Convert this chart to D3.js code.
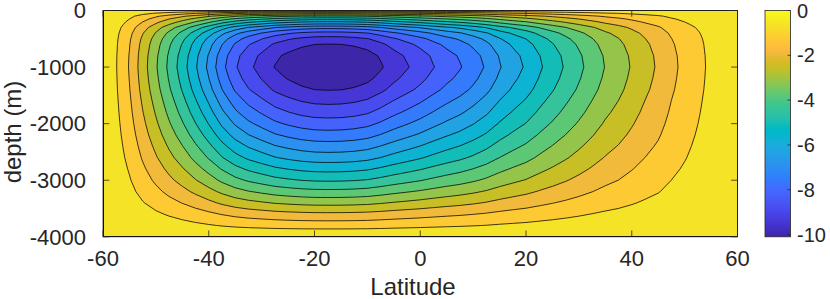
<!DOCTYPE html>
<html><head><meta charset="utf-8">
<script src="https://cdn.jsdelivr.net/npm/d3@7"></script>
<style>
body{margin:0;background:#fff;}
text{font-family:"Liberation Sans",Arial,Helvetica,sans-serif;fill:#262626;}
</style></head><body>
<svg id="chart" width="830" height="299"></svg>
<script>
// ---- data ----
const latGrid = [-60,-57.5,-55,-52.5,-50,-47.5,-45,-42.5,-40,-37.5,-35,-32.5,-30,-27.5,-25,-22.5,-20,-17.5,-15,-12.5,-10,-7.5,-5,-2.5,0,2.5,5,7.5,10,12.5,15,17.5,20,22.5,25,27.5,30,32.5,35,37.5,40,42.5,45,47.5,50,52.5,55,57.5,60];
const latProfile = [0,0.06,0.13,0.22,0.305,0.39,0.47,0.555,0.64,0.73,0.805,0.86,0.90,0.94,0.965,0.985,0.997,1.0,0.998,0.99,0.975,0.945,0.91,0.88,0.85,0.815,0.783,0.755,0.72,0.68,0.63,0.59,0.555,0.51,0.47,0.43,0.39,0.35,0.31,0.28,0.245,0.21,0.18,0.14,0.11,0.08,0.05,0.02,0];
const depthGrid = [0,-25,-50,-100,-150,-200,-250,-300,-400,-500,-600,-800,-1000,-1200,-1400,-1600,-1800,-2000,-2200,-2400,-2600,-2800,-3000,-3200,-3400,-3600,-3800,-3900,-4000];
const depthProfile = [0,0.12,0.22,0.38,0.48,0.565,0.645,0.73,0.835,0.9,0.94,0.985,1.0,0.975,0.94,0.89,0.84,0.785,0.725,0.66,0.595,0.52,0.445,0.36,0.27,0.175,0.09,0.045,0];
const psiMin = -10.1, psiMax = 0;
const nLevels = 15;
const xTicks = [-60,-40,-20,0,20,40,60];
const yTicks = [0,-1000,-2000,-3000,-4000];
const cbTicks = [0,-2,-4,-6,-8,-10];

// ---- parula colormap ----
const parula = [
[0.2422,0.1504,0.6603],[0.2504,0.1650,0.7076],[0.2578,0.1818,0.7511],[0.2647,0.1978,0.7952],
[0.2706,0.2147,0.8364],[0.2751,0.2342,0.8710],[0.2783,0.2559,0.8991],[0.2803,0.2782,0.9221],
[0.2813,0.3006,0.9414],[0.2810,0.3228,0.9579],[0.2795,0.3447,0.9717],[0.2760,0.3667,0.9829],
[0.2699,0.3892,0.9906],[0.2602,0.4123,0.9952],[0.2440,0.4358,0.9988],[0.2206,0.4603,0.9973],
[0.1963,0.4847,0.9892],[0.1834,0.5074,0.9798],[0.1786,0.5289,0.9682],[0.1764,0.5499,0.9520],
[0.1687,0.5703,0.9359],[0.1540,0.5902,0.9218],[0.1460,0.6091,0.9079],[0.1380,0.6276,0.8973],
[0.1248,0.6459,0.8883],[0.1113,0.6635,0.8763],[0.0952,0.6798,0.8598],[0.0689,0.6948,0.8394],
[0.0297,0.7082,0.8163],[0.0036,0.7199,0.7913],[0.0067,0.7296,0.7649],[0.0433,0.7380,0.7374],
[0.0964,0.7453,0.7091],[0.1408,0.7518,0.6801],[0.1717,0.7577,0.6503],[0.1938,0.7635,0.6195],
[0.2161,0.7697,0.5877],[0.2470,0.7757,0.5546],[0.2906,0.7815,0.5187],[0.3406,0.7851,0.4791],
[0.3909,0.7858,0.4365],[0.4456,0.7838,0.3903],[0.5044,0.7793,0.3480],[0.5616,0.7746,0.3025],
[0.6174,0.7697,0.2586],[0.6720,0.7635,0.2173],[0.7242,0.7561,0.1805],[0.7738,0.7480,0.1507],
[0.8203,0.7397,0.1313],[0.8634,0.7310,0.1540],[0.9035,0.7231,0.1894],[0.9393,0.7276,0.2233],
[0.9728,0.7309,0.2394],[0.9956,0.7434,0.2371],[0.9970,0.7659,0.2199],[0.9952,0.7893,0.2028],
[0.9892,0.8136,0.1885],[0.9786,0.8386,0.1766],[0.9676,0.8639,0.1643],[0.9610,0.8890,0.1537],
[0.9597,0.9135,0.1423],[0.9628,0.9373,0.1265],[0.9691,0.9606,0.1064],[0.9769,0.9839,0.0805]];
function parulaAt(t){
  t = Math.max(0, Math.min(1, t));
  const p = t*(parula.length-1), i = Math.min(parula.length-2, Math.floor(p)), f = p - i;
  const c = parula[i].map((v,k)=> (v + (parula[i+1][k]-v)*f)*255);
  return d3.rgb(c[0],c[1],c[2]).formatHex();
}
const color = v => parulaAt((v - psiMin)/(psiMax - psiMin));

// ---- layout ----
const plot = {l:103, r:737.5, t:10.5, b:236.8};
const cb = {l:765, r:790.5, t:10.5, b:236.8};
const svg = d3.select("#chart");
const x = d3.scaleLinear().domain([-60,60]).range([plot.l, plot.r]);
const y = d3.scaleLinear().domain([-4000,0]).range([plot.b, plot.t]);

// ---- field on grid ----
const n = latGrid.length, m = depthGrid.length;
const values = new Array(n*m);
for (let j=0;j<m;j++) for (let i=0;i<n;i++) values[j*n+i] = psiMin*latProfile[i]*depthProfile[j];
const levels = d3.range(1, nLevels+1).map(k => psiMin + k*(psiMax-psiMin)/(nLevels+1));
const contours = d3.contours().size([n,m]).smooth(true).thresholds(levels)(values);

const idxLat = d3.scaleLinear().domain(d3.range(n)).range(latGrid).clamp(true);
const idxDep = d3.scaleLinear().domain(d3.range(m)).range(depthGrid).clamp(true);
const proj = d3.geoTransform({point(px,py){ this.stream.point(x(idxLat(px-0.5)), y(idxDep(py-0.5))); }});
const path = d3.geoPath(proj);

svg.append("clipPath").attr("id","clip").append("rect")
  .attr("x",plot.l).attr("y",plot.t).attr("width",plot.r-plot.l).attr("height",plot.b-plot.t);
const g = svg.append("g").attr("clip-path","url(#clip)");
g.append("rect").attr("x",plot.l).attr("y",plot.t).attr("width",plot.r-plot.l).attr("height",plot.b-plot.t)
  .attr("fill", color(psiMin));
g.selectAll("path.fill").data(contours).join("path").attr("class","fill")
  .attr("d", path).attr("fill", d=>color(d.value)).attr("stroke","none");
g.selectAll("path.line").data(contours).join("path").attr("class","line")
  .attr("d", path).attr("fill","none").attr("stroke","#000").attr("stroke-width",0.75);

// ---- axes ----
const ax = svg.append("g").attr("stroke","#262626").attr("stroke-width",0.8).attr("fill","none");
ax.append("rect").attr("x",plot.l).attr("y",plot.t).attr("width",plot.r-plot.l).attr("height",plot.b-plot.t);
const tl = 6.3;
xTicks.forEach(v=>{
  ax.append("line").attr("x1",x(v)).attr("x2",x(v)).attr("y1",plot.b).attr("y2",plot.b-tl);
  ax.append("line").attr("x1",x(v)).attr("x2",x(v)).attr("y1",plot.t).attr("y2",plot.t+tl);
});
yTicks.forEach(v=>{
  ax.append("line").attr("x1",plot.l).attr("x2",plot.l+tl).attr("y1",y(v)).attr("y2",y(v));
  ax.append("line").attr("x1",plot.r).attr("x2",plot.r-tl).attr("y1",y(v)).attr("y2",y(v));
});
svg.append("g").selectAll("text").data(xTicks).join("text")
  .attr("x",d=>x(d)).attr("y",266).attr("text-anchor","middle").attr("font-size",22).text(d=>String(d));
svg.append("g").selectAll("text").data(yTicks).join("text")
  .attr("x",86).attr("y",d=>y(d)).attr("dy","0.35em").attr("text-anchor","end").attr("font-size",22).text(d=>String(d));
svg.append("text").attr("x",413).attr("y",295).attr("text-anchor","middle").attr("font-size",24).text("Latitude");
svg.append("text").attr("transform",`translate(20.5,132) rotate(-90)`).attr("text-anchor","middle").attr("font-size",24).text("depth (m)");

// ---- colorbar ----
const cy = d3.scaleLinear().domain([psiMin, psiMax]).range([cb.b, cb.t]);
const grad = svg.append("defs").append("linearGradient").attr("id","cbgrad")
  .attr("x1",0).attr("y1",1).attr("x2",0).attr("y2",0);
parula.forEach((c,i)=>grad.append("stop").attr("offset", i/(parula.length-1))
  .attr("stop-color", d3.rgb(c[0]*255,c[1]*255,c[2]*255).formatHex()));
svg.append("rect").attr("x",cb.l).attr("y",cb.t).attr("width",cb.r-cb.l).attr("height",cb.b-cb.t)
  .attr("fill","url(#cbgrad)").attr("stroke","#262626").attr("stroke-width",0.8);
cbTicks.forEach(v=>{
  svg.append("line").attr("x1",cb.r).attr("x2",cb.r-3).attr("y1",cy(v)).attr("y2",cy(v))
    .attr("stroke","#262626").attr("stroke-width",0.8);
});
svg.append("g").selectAll("text").data(cbTicks).join("text")
  .attr("x",797).attr("y",d=>cy(d)).attr("dy","0.35em").attr("font-size",20).text(d=>String(d));
</script>
</body></html>
